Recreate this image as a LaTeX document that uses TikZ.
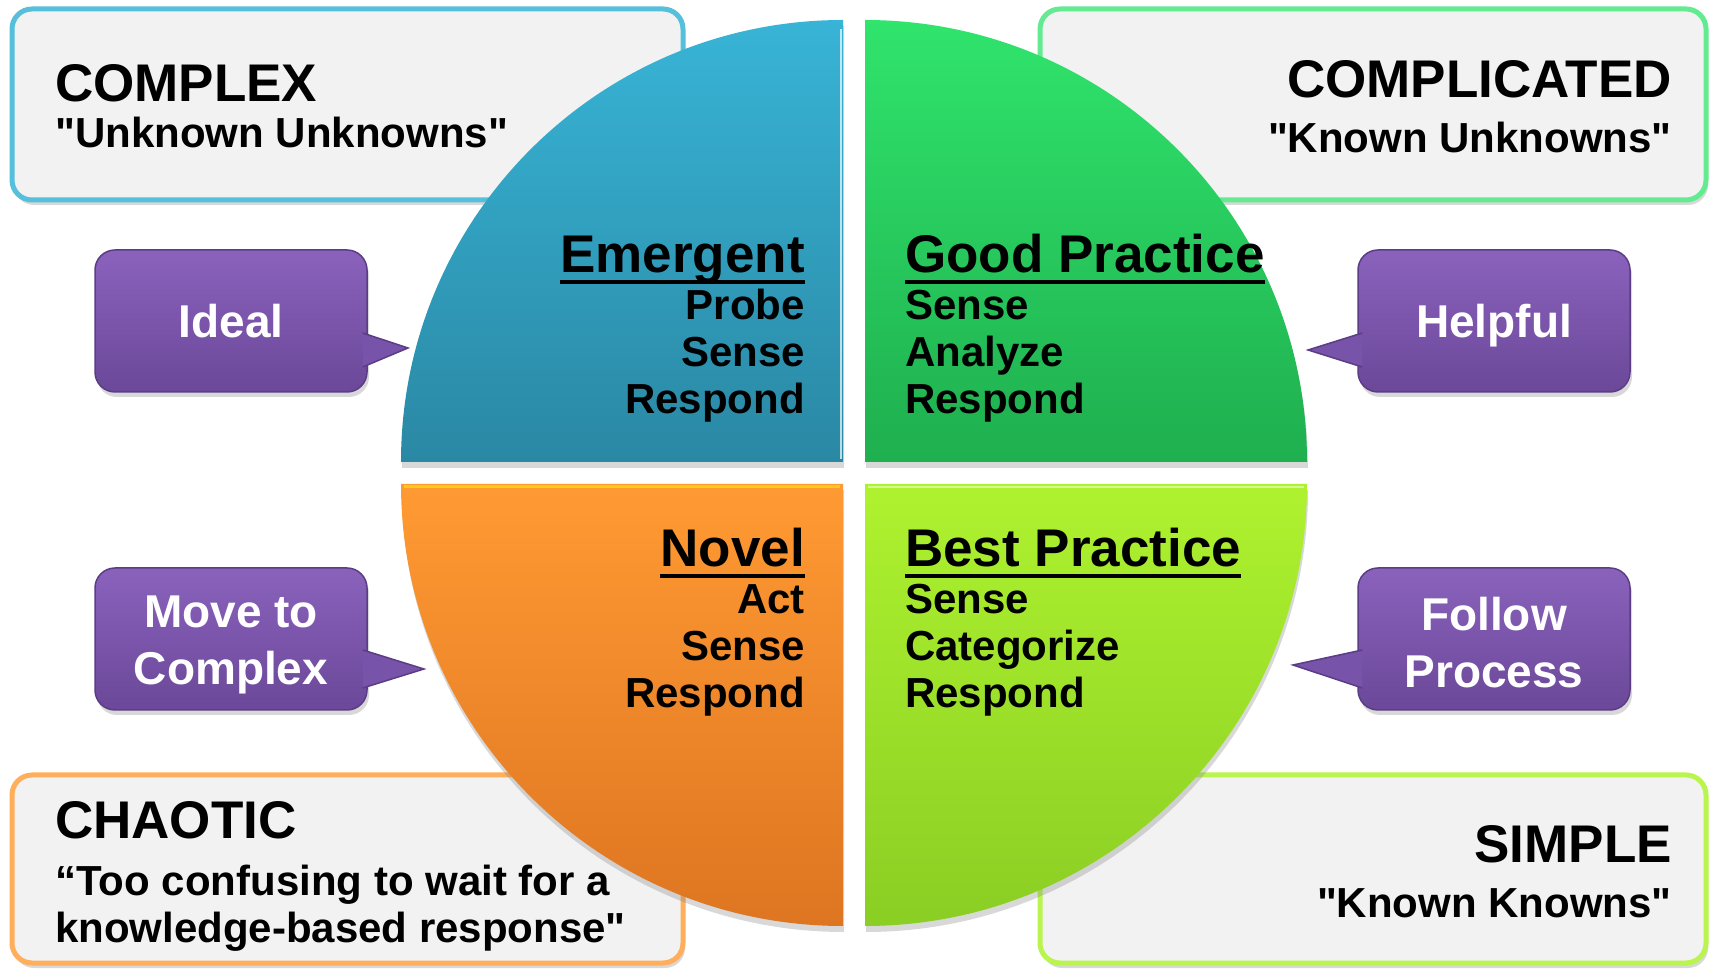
\documentclass[tikz,border=0pt]{standalone}
\usepackage{fontspec}
\setmainfont{Liberation Sans}[Ligatures=TeXOff]
\usetikzlibrary{shadows,calc}

\begin{document}
\begin{tikzpicture}[x=1pt, y=1pt,
    quad/.style={drop shadow={shadow xshift=1pt, shadow yshift=-6pt, opacity=.3}},
    domainbox/.style={rounded corners=20pt, line width=5pt, fill=boxgray,
      drop shadow={shadow xshift=2pt, shadow yshift=-5pt, opacity=.3}},
    title/.style={font=\fontsize{53}{60}\selectfont\bfseries, inner sep=0pt},
    quote/.style={font=\fontsize{42}{48}\selectfont\bfseries, inner sep=0pt},
    head/.style={font=\fontsize{53}{60}\selectfont\bfseries, inner sep=0pt},
    body/.style={font=\fontsize{42}{48}\selectfont\bfseries, inner sep=0pt},
    callout/.style={rounded corners=20pt, minimum width=272pt, minimum height=142pt,
      top color=calloutTop, bottom color=calloutBot, draw=calloutEdge, line width=1.5pt,
      text=white, align=center, font=\fontsize{46}{57}\selectfont\bfseries,
      drop shadow={shadow xshift=2pt, shadow yshift=-5pt, opacity=.3}},
    pointer/.style={fill=calloutMid, draw=calloutEdge, line width=1.5pt, line join=miter}
  ]
    % Define colors
    \definecolor{boxgray}{HTML}{F2F2F2}
    \definecolor{blueTop}{HTML}{38B4D6}   \definecolor{blueBot}{HTML}{2A88A4}
    \definecolor{greenTop}{HTML}{30E46C}  \definecolor{greenBot}{HTML}{1FAF4F}
    \definecolor{orangeTop}{HTML}{FF9A33} \definecolor{orangeBot}{HTML}{DE7521}
    \definecolor{limeTop}{HTML}{AEF22F}   \definecolor{limeBot}{HTML}{8BCE24}
    \definecolor{calloutTop}{HTML}{8A62BC} \definecolor{calloutBot}{HTML}{6B4899}
    \definecolor{calloutMid}{HTML}{7753A9} \definecolor{calloutEdge}{HTML}{5B3D86}

    % Straight double quote
    \def\dq{\symbol{34}}

    % Page area
    \fill[white] (0,0) rectangle (1713,969);
    \useasboundingbox (0,0) rectangle (1713,969);

    % Domain boxes behind the quadrants
    \draw[domainbox, draw=blueTop!85!white]   (12,769) rectangle (683,960);
    \draw[domainbox, draw=greenTop!75!white]  (1040,769) rectangle (1706,960);
    \draw[domainbox, draw=orangeTop!80!white] (12,6) rectangle (683,194);
    \draw[domainbox, draw=limeTop!85!white]   (1040,6) rectangle (1706,194);

    % Domain names
    \node[title, anchor=base west] (complex) at (55,867) {COMPLEX};
    \node[quote, anchor=base west] (complexq) at (55,821) {\dq Unknown Unknowns\dq};
    \node[title, anchor=base east] (complicated) at (1672,871) {COMPLICATED};
    \node[quote, anchor=base east] (complicatedq) at (1672,816) {\dq Known Unknowns\dq};
    \node[title, anchor=base west] (chaotic) at (55,130) {CHAOTIC};
    \node[quote, anchor=base west] (chaoticq) at (55,73) {“Too confusing to wait for a};
    \node[quote, anchor=base west] (chaoticq2) at (55,27) {knowledge-based response\dq};
    \node[title, anchor=base east] (simple) at (1672,106) {SIMPLE};
    \node[quote, anchor=base east] (simpleq) at (1672,51) {\dq Known Knowns\dq};

    % Four quadrants of the circle
    \shade[quad, top color=blueTop, bottom color=blueBot]
      (843,507) -- (401,507) arc (180:90:442) -- cycle;
    \shade[quad, top color=greenTop, bottom color=greenBot]
      (865,507) -- (865,949) arc (90:0:442) -- cycle;
    \shade[quad, top color=orangeTop, bottom color=orangeBot]
      (843,485) -- (401,485) arc (180:270:442) -- cycle;
    \shade[quad, top color=limeTop, bottom color=limeBot]
      (865,485) -- (1307,485) arc (0:-90:442) -- cycle;
    % light inner edges
    \draw[white, opacity=.7, line width=2pt] (841,510) -- (841,940);
    \draw[orangeTop!40!yellow, opacity=.8, line width=3pt] (404,482) -- (840,482);
    \draw[limeTop!40!white, opacity=.8, line width=2pt] (868,482) -- (1304,482);

    % Macro for a heading with its underline
    \def\underlineHead#1{\draw[line width=4pt] ([yshift=-9pt]#1.base west) -- ([yshift=-9pt]#1.base east);}

    % Emergent (top left)
    \node[head, anchor=base east] (emergent) at (805,696) {Emergent};
    \underlineHead{emergent}
    \foreach \w [count=\i] in {Probe,Sense,Respond}
      \node[body, anchor=base east] (emergent-\i) at ([yshift={-46.7*\i}]emergent.base east) {\w};

    % Good Practice (top right)
    \node[head, anchor=base west] (good) at (905,696) {Good Practice};
    \underlineHead{good}
    \foreach \w [count=\i] in {Sense,Analyze,Respond}
      \node[body, anchor=base west] (good-\i) at ([yshift={-46.7*\i}]good.base west) {\w};

    % Novel (bottom left)
    \node[head, anchor=base east] (novel) at (805,402) {Novel};
    \underlineHead{novel}
    \foreach \w [count=\i] in {Act,Sense,Respond}
      \node[body, anchor=base east] (novel-\i) at ([yshift={-46.7*\i}]novel.base east) {\w};

    % Best Practice (bottom right)
    \node[head, anchor=base west] (best) at (905,402) {Best Practice};
    \underlineHead{best}
    \foreach \w [count=\i] in {Sense,Categorize,Respond}
      \node[body, anchor=base west] (best-\i) at ([yshift={-46.7*\i}]best.base west) {\w};

    % Callouts
    \node[callout, text height=33pt, text depth=0pt] (ideal) at (231,648) {Ideal};
    \coordinate (idealTip) at (408,621);
    \draw[pointer] ([xshift=-5pt, yshift=-12pt]ideal.east) -- (idealTip) -- ([xshift=-5pt, yshift=-46pt]ideal.east);

    \node[callout, text height=33pt, text depth=0pt] (helpful) at (1494,648) {Helpful};
    \coordinate (helpfulTip) at (1308,619);
    \draw[pointer] ([xshift=5pt, yshift=-12pt]helpful.west) -- (helpfulTip) -- ([xshift=5pt, yshift=-46pt]helpful.west);

    \node[callout] (move) at (231,330) {\rule{0pt}{44pt}Move to\\Complex};
    \coordinate (moveTip) at (424,300);
    \draw[pointer] ([xshift=-5pt, yshift=-11pt]move.east) -- (moveTip) -- ([xshift=-5pt, yshift=-49pt]move.east);

    \node[callout] (follow) at (1494,330) {\rule{0pt}{40pt}Follow\\Process};
    \coordinate (followTip) at (1293,304);
    \draw[pointer] ([xshift=5pt, yshift=-11pt]follow.west) -- (followTip) -- ([xshift=5pt, yshift=-49pt]follow.west);
  \end{tikzpicture}
\end{document}
